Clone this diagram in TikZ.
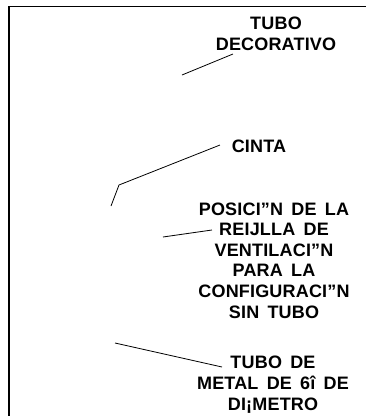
\documentclass[tikz,border=0pt]{standalone}
\usepackage{fontspec}
\setmainfont{Liberation Sans}
\newfontfamily\lblfont[WordSpace=1.6, LetterSpace=1]{Liberation Sans}
\usetikzlibrary{calc}

\begin{document}
\begin{tikzpicture}[x=1pt, y=-1pt,
		lbl/.style={align=center, anchor=base, inner sep=0pt,
			font=\lblfont\bfseries\fontsize{18}{20.6}\selectfont},
		leader/.style={line width=0.8pt}]
		\useasboundingbox (0,0) rectangle (366,416);
		\draw[line width=1.3pt] (9,416) -- (9,6.5) -- (366,6.5);
		% labels (anchored at the baseline of the last line)
		\node[lbl] (deco) at (276,50) {TUBO\\DECORATIVO};
		\node[lbl] (cinta) at (259,152) {CINTA};
		\node[lbl] (reja) at (274,318) {POSICI”N DE LA\\REIJLLA DE\\VENTILACI”N\\PARA LA\\CONFIGURACI”N\\SIN TUBO};
		\node[lbl] (metal) at (273,410) {TUBO DE\\METAL DE 6î DE\\DI¡METRO};
		% leader ends
		\coordinate (decoA) at (182,75);
		\coordinate (decoB) at (233,54);
		\coordinate (cintaA) at (111,206);
		\coordinate (cintaK) at (119,185);
		\coordinate (cintaB) at (220,145);
		\coordinate (rejaA) at (163,237);
		\coordinate (rejaB) at (212,230);
		\coordinate (metalA) at (115,343);
		\coordinate (metalB) at (222,367);
		\draw[leader] (decoA) -- (decoB);
		\draw[leader] (cintaA) -- (cintaK) -- (cintaB);
		\draw[leader] (rejaA) -- (rejaB);
		\draw[leader] (metalA) -- (metalB);
	\end{tikzpicture}
\end{document}
